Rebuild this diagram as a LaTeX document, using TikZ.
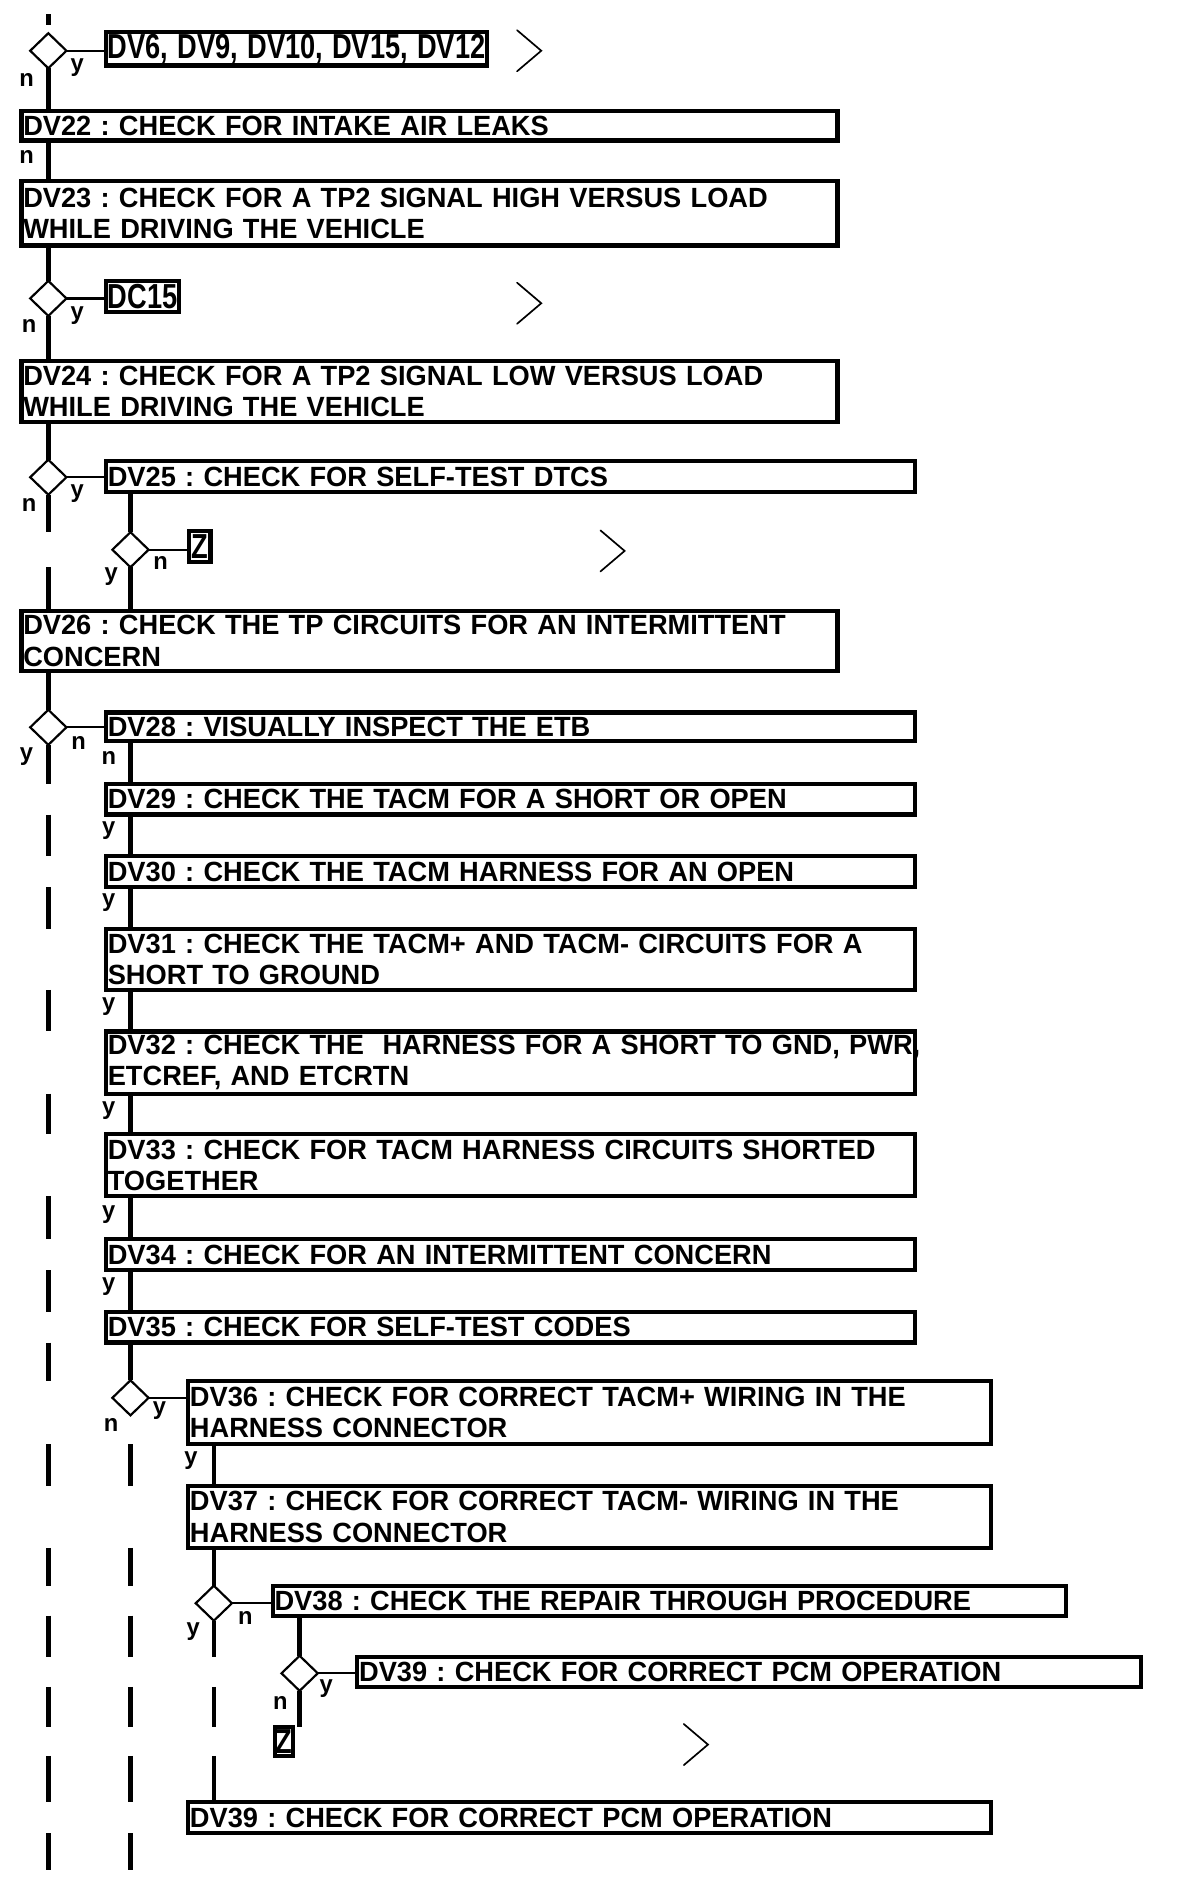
\documentclass[tikz,border=0pt]{standalone}
\usepackage{fontspec}
\setmainfont{Liberation Sans}[FakeStretch=0.98]
\usepackage{graphicx}
\usetikzlibrary{shapes.geometric}
\frenchspacing
\newcommand\mainfnt{\fontsize{23}{26}\selectfont\bfseries\frenchspacing}
\newcommand\labfnt{\fontsize{20}{20}\selectfont\bfseries}
\newcommand\sq[1]{\hbox to\linewidth{\hss\scalebox{1}[1.25]{#1}\hss}}
\def\ysc{1}
\newcommand\mkbox[7]{%
  \pgfmathsetmacro\bxw{#5-#3-3.5}%
  \pgfmathsetmacro\bxh{(#6-#4)*\ysc-3.5}%
  \pgfmathsetmacro\bxt{#5-#3-6.5}%
  \node[#1, minimum width=\bxw pt, minimum height=\bxh pt, text width=\bxt pt] (#2) at (#3+1.75,#4+1.75) {#7};}
\tikzset{
  box/.style={draw, line width=3.5pt, inner xsep=1.5pt, inner ysep=0pt, outer sep=0pt, anchor=north west, align=left, font=\mainfnt},
  sbox/.style={draw, line width=3.5pt, inner xsep=1.5pt, inner ysep=0pt, outer sep=0pt, anchor=north west, font=\mainfnt},
  dia/.style={draw, diamond, line width=1.8pt, minimum width=30pt, minimum height=29pt, inner sep=0pt, outer sep=0pt},
  vline/.style={line width=3.6pt},
  hline/.style={line width=1.8pt},
  lab/.style={font=\labfnt, inner sep=0pt, anchor=base},
  chev/.style={line width=1.4pt, line cap=round}
}
\begin{document}
\begin{tikzpicture}[x=1pt,y=-1pt]
\useasboundingbox (0,0) rectangle (980,1571);
% boxes
\mkbox{sbox}{dv6}{86}{25}{405}{56}{\sq{DV6, DV9, DV10, DV15, DV12}}
\mkbox{box}{dv22}{16}{90}{695}{118}{\mbox{DV22 : CHECK FOR INTAKE AIR LEAKS}}
\mkbox{box}{dv23}{16}{148}{695}{205}{\mbox{DV23 : CHECK FOR A TP2 SIGNAL HIGH VERSUS LOAD}\\\mbox{WHILE DRIVING THE VEHICLE}}
\mkbox{sbox}{dc15}{86}{231}{150}{260}{\sq{DC15}}
\mkbox{box}{dv24}{16}{297}{695}{351}{\mbox{DV24 : CHECK FOR A TP2 SIGNAL LOW VERSUS LOAD}\\\mbox{WHILE DRIVING THE VEHICLE}}
\mkbox{box}{dv25}{86}{380}{759}{409}{\mbox{DV25 : CHECK FOR SELF-TEST DTCS}}
\mkbox{sbox}{z1}{155}{438}{176}{467}{\sq{Z}}
\mkbox{box}{dv26}{16}{504}{695}{557}{\mbox{DV26 : CHECK THE TP CIRCUITS FOR AN INTERMITTENT}\\\mbox{CONCERN}}
\mkbox{box}{dv28}{86}{588}{759}{615}{\mbox{DV28 : VISUALLY INSPECT THE ETB}}
\mkbox{box}{dv29}{86}{647}{759}{676}{\mbox{DV29 : CHECK THE TACM FOR A SHORT OR OPEN}}
\mkbox{box}{dv30}{86}{707}{759}{736}{\mbox{DV30 : CHECK THE TACM HARNESS FOR AN OPEN}}
\mkbox{box}{dv31}{86}{767}{759}{821}{\mbox{DV31 : CHECK THE TACM+ AND TACM- CIRCUITS FOR A}\\\mbox{SHORT TO GROUND}}
\mkbox{box}{dv32}{86}{852}{759}{907}{\mbox{DV32 : CHECK THE\ \ HARNESS FOR A SHORT TO GND, PWR,}\\\mbox{ETCREF, AND ETCRTN}}
\mkbox{box}{dv33}{86}{937}{759}{992}{\mbox{DV33 : CHECK FOR TACM HARNESS CIRCUITS SHORTED}\\\mbox{TOGETHER}}
\mkbox{box}{dv34}{86}{1024}{759}{1053}{\mbox{DV34 : CHECK FOR AN INTERMITTENT CONCERN}}
\mkbox{box}{dv35}{86}{1084}{759}{1113}{\mbox{DV35 : CHECK FOR SELF-TEST CODES}}
\mkbox{box}{dv36}{154}{1141}{822}{1197}{\mbox{DV36 : CHECK FOR CORRECT TACM+ WIRING IN THE}\\\mbox{HARNESS CONNECTOR}}
\mkbox{box}{dv37}{154}{1228}{822}{1283}{\mbox{DV37 : CHECK FOR CORRECT TACM- WIRING IN THE}\\\mbox{HARNESS CONNECTOR}}
\mkbox{box}{dv38}{224}{1311}{884}{1339}{\mbox{DV38 : CHECK THE REPAIR THROUGH PROCEDURE}}
\mkbox{box}{dv39}{294}{1370}{946}{1398}{\mbox{DV39 : CHECK FOR CORRECT PCM OPERATION}}
\mkbox{sbox}{z2}{226}{1428}{244}{1455}{\sq{Z}}
\mkbox{box}{dv39b}{154}{1490}{822}{1519}{\mbox{DV39 : CHECK FOR CORRECT PCM OPERATION}}
% diamonds
\node[dia] (d1) at (40,42) {};
\node[dia] (d2) at (40,247) {};
\node[dia] (d3) at (40,395) {};
\node[dia] (d4) at (108,455) {};
\node[dia] (d5) at (40,602) {};
\node[dia] (d6) at (108,1157) {};
\node[dia] (d7) at (177,1327) {};
\node[dia] (d8) at (248,1385) {};
\coordinate (top1) at (40,12);
\coordinate (top2) at (40,21);
\coordinate (bot) at (40,1548);
% column 0
\draw[vline] (top1) -- (top2);
\draw[hline] (d1.east) -- (d1.east -| dv6.west);
\draw[vline] (d1.south) -- (d1.south |- dv22.north);
\draw[vline] (d1 |- dv22.south) -- (d1 |- dv23.north);
\draw[vline] (d2 |- dv23.south) -- (d2.north);
\draw[hline] (d2.east) -- (d2.east -| dc15.west);
\draw[vline] (d2.south) -- (d2 |- dv24.north);
\draw[vline] (d3 |- dv24.south) -- (d3.north);
\draw[hline] (d3.east) -- (d3.east -| dv25.west);
\draw[vline] (d3.south) -- (d3 |- d4.north);
\draw[vline] (d3 |- d4.south) -- (d3 |- dv26.north);
\draw[vline] (d4 |- dv25.south) -- (d4.north);
\draw[hline] (d4.east) -- (d4.east -| z1.west);
\draw[vline] (d4.south) -- (d4 |- dv26.north);
\draw[vline] (d5 |- dv26.south) -- (d5.north);
\draw[hline] (d5.east) -- (d5.east -| dv28.west);
\draw[vline] (d5.south) -- (d5 |- dv29.north);
\foreach \a/\b in {dv29/dv30,dv30/dv31,dv31/dv32,dv32/dv33,dv33/dv34,dv34/dv35,dv35/dv36,dv36/dv37,dv37/dv38,dv38/dv39,dv39/z2,z2/dv39b}
  \draw[vline] (d5 |- \a.south) -- (d5 |- \b.north);
\draw[vline] (d5 |- dv39b.south) -- (d5 |- bot);
% column 1
\draw[vline] (d6 |- dv28.south) -- (d6 |- dv29.north);
\foreach \a/\b in {dv29/dv30,dv30/dv31,dv31/dv32,dv32/dv33,dv33/dv34,dv34/dv35}
  \draw[vline] (d6 |- \a.south) -- (d6 |- \b.north);
\draw[vline] (d6 |- dv35.south) -- (d6.north);
\draw[hline] (d6.east) -- (d6.east -| dv36.west);
\foreach \a/\b in {dv36/dv37,dv37/dv38,dv38/dv39,dv39/z2,z2/dv39b}
  \draw[vline] (d6 |- \a.south) -- (d6 |- \b.north);
\draw[vline] (d6 |- dv39b.south) -- (d6 |- bot);
% column 2
\draw[vline] (d7 |- dv36.south) -- (d7 |- dv37.north);
\draw[vline] (d7 |- dv37.south) -- (d7.north);
\draw[hline] (d7.east) -- (d7.east -| dv38.west);
\draw[vline] (d7.south) -- (d7 |- dv39.north);
\draw[vline] (d7 |- dv39.south) -- (d7 |- z2.north);
\draw[vline] (d7 |- z2.south) -- (d7 |- dv39b.north);
% column 3
\draw[vline] (d8 |- dv38.south) -- (d8.north);
\draw[hline] (d8.east) -- (d8.east -| dv39.west);
\draw[vline] (d8.south) -- (d8 |- z2.north);
% chevrons
\coordinate (ch1) at (438,42);
\coordinate (ch2) at (438,251);
\coordinate (ch3) at (507,456);
\coordinate (ch4) at (576,1444);
\foreach \c in {ch1,ch2,ch3,ch4}
  \draw[chev] ([shift={(-10,-17)}]\c) -- ([shift={(10,0)}]\c) -- ([shift={(-10,17)}]\c);
% labels
\node[lab] (ly1) at (64,59.5) {y};
\node[lab] (ln1) at (22,72) {n};
\node[lab] (ln1b) at (22,135) {n};
\node[lab] (ly2) at (64,264.5) {y};
\node[lab] (ln2) at (24,275) {n};
\node[lab] (ly3) at (64,411.5) {y};
\node[lab] (ln3) at (24,423) {n};
\node[lab] (ln4) at (133,471) {n};
\node[lab] (ly4) at (92,480.5) {y};
\node[lab] (ln5) at (65,620) {n};
\node[lab] (ly5) at (22,629.5) {y};
\node[lab] (ln5b) at (90,633) {n};
\node[lab] (ya) at (90,690.5) {y};
\node[lab] (yb) at (90,750.5) {y};
\node[lab] (yc) at (90,836.5) {y};
\node[lab] (yd) at (90,922.5) {y};
\node[lab] (ye) at (90,1008.5) {y};
\node[lab] (yf) at (90,1068.5) {y};
\node[lab] (ly6) at (132,1170.5) {y};
\node[lab] (ln6) at (92,1185) {n};
\node[lab] (ly6b) at (158,1212.5) {y};
\node[lab] (ln7) at (203,1345) {n};
\node[lab] (ly7) at (160,1353.5) {y};
\node[lab] (ly8) at (270,1400.5) {y};
\node[lab] (ln8) at (232,1415) {n};
\end{tikzpicture}
\end{document}
